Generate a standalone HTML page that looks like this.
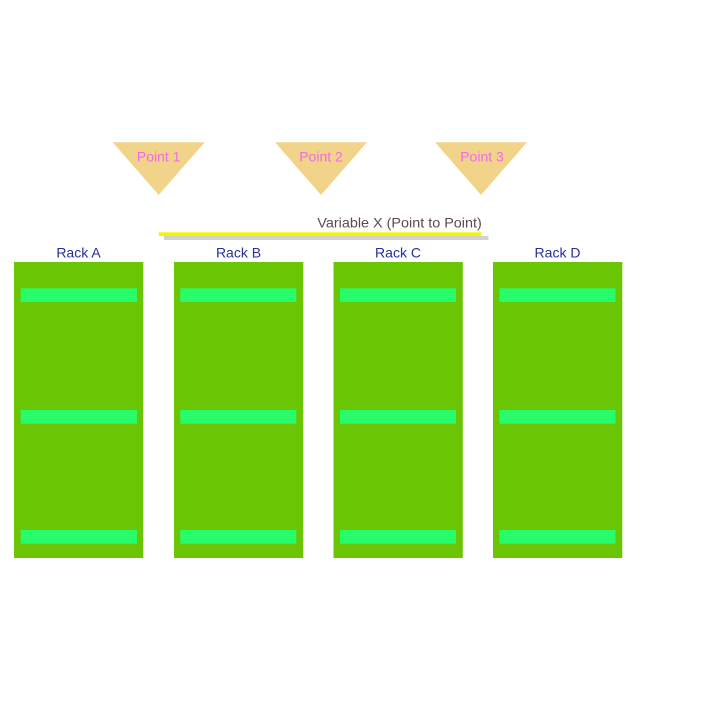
<!DOCTYPE html>
<html><head><meta charset="utf-8"><style>
html,body{margin:0;padding:0;background:#fff;}
svg{display:block;}
text{font-family:"Liberation Sans",sans-serif;font-size:14px;}
</style></head><body>
<svg width="701" height="701" viewBox="0 0 701 701" xmlns="http://www.w3.org/2000/svg">
<rect width="701" height="701" fill="#fff"/>
<!-- triangles -->
<polygon points="112.7,142.3 204.7,142.3 158.7,195" fill="#f2d38a"/>
<polygon points="275,142.3 367,142.3 321,195" fill="#f2d38a"/>
<polygon points="435,142.3 527,142.3 481,195" fill="#f2d38a"/>
<text x="158.7" y="161.5" text-anchor="middle" fill="#ee6be8">Point 1</text>
<text x="321" y="161.5" text-anchor="middle" fill="#ee6be8">Point 2</text>
<text x="482" y="161.5" text-anchor="middle" fill="#ee6be8">Point 3</text>
<!-- variable line -->
<rect x="164" y="236" width="324.5" height="4" fill="#d2d2d2"/>
<rect x="158.7" y="232.3" width="322.5" height="3.7" fill="#f2f50a"/>
<text x="317.3" y="227.7" textLength="164.5" lengthAdjust="spacingAndGlyphs" fill="#5b4b4b">Variable X (Point to Point)</text>
<!-- racks -->
<g>
<text x="78.5" y="257.5" text-anchor="middle" fill="#2c2c9c">Rack A</text>
<rect x="14" y="262" width="129.3" height="296" fill="#6ac604"/>
<rect x="20.7" y="288.3" width="116.3" height="13.7" fill="#28fc6a"/>
<rect x="20.7" y="410" width="116.3" height="13.7" fill="#28fc6a"/>
<rect x="20.7" y="530" width="116.3" height="13.7" fill="#28fc6a"/>
</g>
<g>
<text x="238.5" y="257.5" text-anchor="middle" fill="#2c2c9c">Rack B</text>
<rect x="174" y="262" width="129.3" height="296" fill="#6ac604"/>
<rect x="180.3" y="288.3" width="116" height="13.7" fill="#28fc6a"/>
<rect x="180.3" y="410" width="116" height="13.7" fill="#28fc6a"/>
<rect x="180.3" y="530" width="116" height="13.7" fill="#28fc6a"/>
</g>
<g>
<text x="398" y="257.5" text-anchor="middle" fill="#2c2c9c">Rack C</text>
<rect x="333.5" y="262" width="129.3" height="296" fill="#6ac604"/>
<rect x="340" y="288.3" width="116" height="13.7" fill="#28fc6a"/>
<rect x="340" y="410" width="116" height="13.7" fill="#28fc6a"/>
<rect x="340" y="530" width="116" height="13.7" fill="#28fc6a"/>
</g>
<g>
<text x="557.5" y="257.5" text-anchor="middle" fill="#2c2c9c">Rack D</text>
<rect x="493" y="262" width="129.3" height="296" fill="#6ac604"/>
<rect x="499.5" y="288.3" width="116" height="13.7" fill="#28fc6a"/>
<rect x="499.5" y="410" width="116" height="13.7" fill="#28fc6a"/>
<rect x="499.5" y="530" width="116" height="13.7" fill="#28fc6a"/>
</g>
</svg>
</body></html>
